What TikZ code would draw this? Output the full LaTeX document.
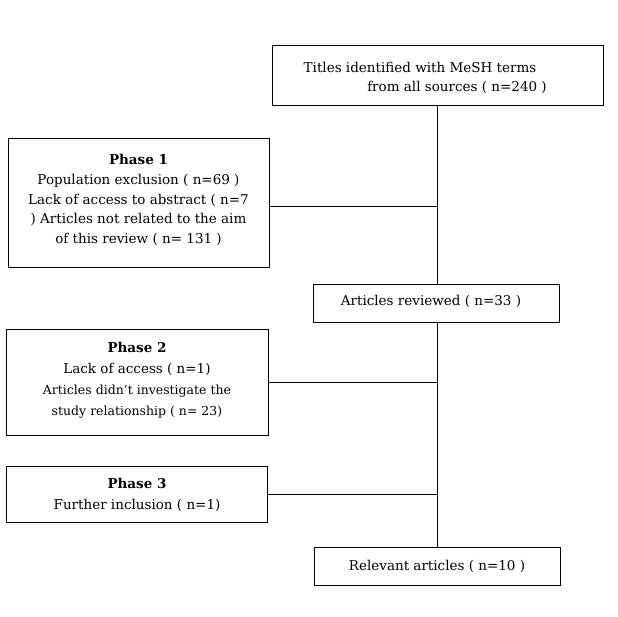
\documentclass[tikz,border=0pt]{standalone}
\usepackage{fontspec}
\setmainfont{DejaVu Serif}
\begin{document}
\begin{tikzpicture}[x=1pt,y=-1pt,
  ln/.style={line width=1pt}]
\useasboundingbox (0,0) rectangle (618,616);
\draw[line width=1pt] (272,45) rectangle (603,105);
\node[font=\fontsize{13.5}{19}\selectfont] (t1) at (420,67) {Titles identified with MeSH terms};
\node[font=\fontsize{13.5}{19}\selectfont] (t2) at (457,87) {from all sources ( n=240 )};
\coordinate (top) at (437,105);
\draw[line width=1pt] (8,138) rectangle (269,267);
\node[align=center,font=\fontsize{13.5}{19.7}\selectfont] (p1) at (138.5,200) {\textbf{Phase 1}\\Population exclusion ( n=69 )\\Lack of access to abstract ( n=7\\) Articles not related to the aim\\of this review ( n= 131 )};
\draw[line width=1pt] (313,284) rectangle (559,322);
\node[font=\fontsize{13.5}{19}\selectfont] (ar) at (431,301) {Articles\ reviewed ( n=33 )};
\draw[line width=1pt] (6,329) rectangle (268,435);
\node[align=center,font=\fontsize{13.5}{21}\selectfont] (p2) at (137,380) {\textbf{Phase 2}\\Lack of access ( n=1)\\{\fontsize{12.5}{18}\selectfont Articles didn't investigate the}\\{\fontsize{12.5}{18}\selectfont study relationship ( n= 23)}};
\draw[line width=1pt] (6,466) rectangle (267,522);
\node[align=center,font=\fontsize{13.5}{21}\selectfont] (p3) at (137,495) {\textbf{Phase 3}\\Further inclusion ( n=1)};
\draw[line width=1pt] (314,547) rectangle (560,585);
\node[font=\fontsize{13.5}{19}\selectfont] (re) at (437,566) {Relevant articles ( n=10 )};
\coordinate (a1) at (437,284);
\coordinate (a2) at (437,322);
\coordinate (b1) at (437,547);
\coordinate (j1) at (437,206);
\coordinate (j2) at (437,382);
\coordinate (j3) at (437,494);
\coordinate (e1) at (269,206);
\coordinate (e2) at (268,382);
\coordinate (e3) at (267,494);
\draw[ln] (top) -- (a1);
\draw[ln] (a2) -- (b1);
\draw[ln] (e1) -- (j1);
\draw[ln] (e2) -- (j2);
\draw[ln] (e3) -- (j3);
\end{tikzpicture}
\end{document}
